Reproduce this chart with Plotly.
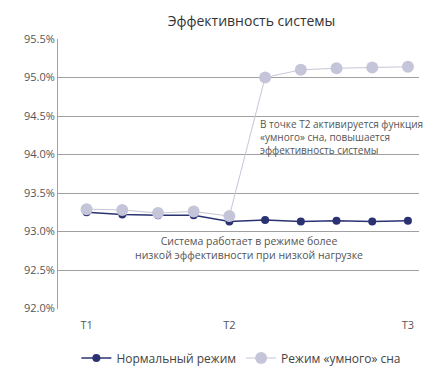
import plotly.graph_objects as go

x_idx = list(range(10))
tick_vals = [0, 4, 9]
tick_text = ["T1", "T2", "T3"]
normal = [93.25, 93.22, 93.21, 93.21, 93.13, 93.15, 93.13, 93.14, 93.13, 93.14]
smart = [93.29, 93.28, 93.24, 93.26, 93.20, 95.00, 95.10, 95.12, 95.13, 95.14]

note1 = ["В точке T2 активируется функция", "«умного» сна, повышается", "эффективность системы"]
note2 = ["Система работает в режиме более", "низкой эффективности при низкой нагрузке"]

fig = go.Figure()
fig.add_trace(go.Scatter(x=x_idx, y=normal, name="Нормальный режим", mode="lines+markers",
                         line=dict(color="#2b3272", width=1.5),
                         marker=dict(color="#2b3272", size=8)))
fig.add_trace(go.Scatter(x=x_idx, y=smart, name="Режим «умного» сна", mode="lines+markers",
                         line=dict(color="#c6c6d8", width=1),
                         marker=dict(color="#c5c5da", size=12)))

H, T, B = 375, 39, 61
PB = H - B
PH = H - T - B


def py2paper(py):
    return (PB - py) / PH


fig.add_annotation(x=0.556, y=py2paper(139.5), xref="paper", yref="paper",
                   text="<br>".join(note1), showarrow=False, xanchor="left", yanchor="middle",
                   align="left", borderpad=0, font=dict(size=10, color="#555555"))
fig.add_annotation(x=0.529, y=py2paper(252), xref="paper", yref="paper",
                   text="<br>".join(note2), showarrow=False, xanchor="center", yanchor="middle",
                   align="center", borderpad=0, font=dict(size=10.5, color="#555555"))

fig.update_layout(
    width=444, height=375,
    margin=dict(l=58, r=25, t=T, b=B),
    paper_bgcolor="white", plot_bgcolor="white",
    font=dict(family="Open Sans", color="#555555", size=11),
    title=dict(text="Эффективность системы", x=251.5 / 444, xanchor="center",
               y=1 - 21.5 / H, yanchor="middle", font=dict(size=14, color="#333333")),
    showlegend=True,
    legend=dict(orientation="h", x=0.508, xanchor="center", yref="container",
                y=1 - 358 / H, yanchor="middle",
                font=dict(size=12, color="#444444")),
    xaxis=dict(range=[-0.8, 9.31], tickvals=tick_vals, ticktext=tick_text, showgrid=False,
               zeroline=False, showline=False, ticks="", ticklabelstandoff=8,
               tickfont=dict(size=11, color="#555555")),
    yaxis=dict(range=[92.0, 95.5], dtick=0.5, tickformat=".1f", ticksuffix="%",
               showgrid=True, gridcolor="#a0a0a0", gridwidth=1, zeroline=False,
               showline=True, linecolor="#a0a0a0", linewidth=1, ticks="",
               tickfont=dict(size=11, color="#555555")),
)

fig.write_html("out.html", config={"displayModeBar": False},
               post_script="document.body.style.margin='0';document.body.style.overflow='hidden';")
